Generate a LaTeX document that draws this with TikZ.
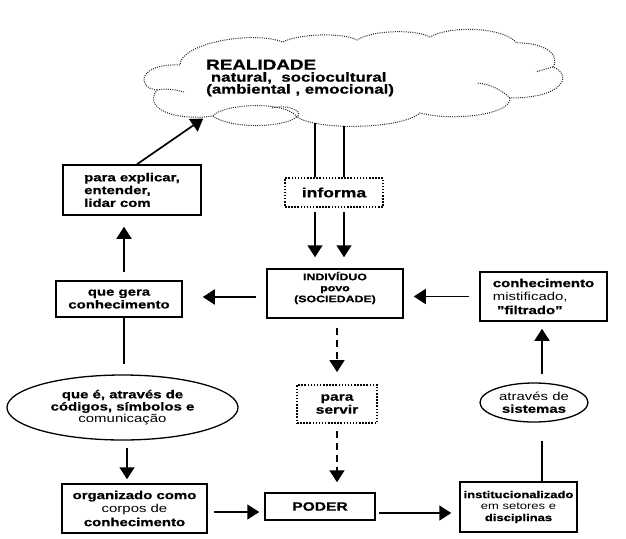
\documentclass[tikz,border=0pt]{standalone}
\usepackage{fontspec}
\setmainfont{Liberation Sans}[FakeStretch=1.3, BoldFeatures={FakeBold=0.7}]
\usetikzlibrary{arrows.meta,shapes.geometric}
\begin{document}
\begin{tikzpicture}[x=1pt,y=-1pt,
  box/.style={draw, line width=1.5pt, rectangle, inner sep=0pt, align=center,
    font=\fontsize{11.5}{12.8}\selectfont\bfseries},
  dotbox/.style={draw, line width=1.8pt, dash pattern=on 1.5pt off 1.6pt, inner sep=0pt, align=center},
  oval/.style={draw, ellipse, line width=1.3pt, inner sep=0pt, align=center,
    font=\fontsize{11.5}{12.2}\selectfont\bfseries},
  arr/.style={line width=1.7pt, -{Triangle[length=12pt,width=15pt]}},
  plainline/.style={line width=1.7pt},
  dasharr/.style={arr, dash pattern=on 7pt off 5pt},
  cloudline/.style={line width=1pt, dash pattern=on 1pt off 1.2pt, black!85}
]
\path[fill=white, use as bounding box] (0,0) rectangle (626,538);

% cloud
\draw[cloudline] (157,90) .. controls (136,88) and (138,63) .. (180,65)
  .. controls (180,44) and (250,30) .. (283,42)
  .. controls (298,34) and (342,32) .. (357,40)
  .. controls (372,30) and (416,29) .. (430,37)
  .. controls (448,26) and (502,26) .. (517,43)
  .. controls (538,42) and (562,52) .. (553,67)
  .. controls (572,74) and (566,98) .. (510,98)
  .. controls (512,114) and (455,122) .. (420,113)
  .. controls (402,129) and (318,131) .. (297,117)
  .. controls (280,129) and (228,128) .. (213,116)
  .. controls (178,121) and (142,110) .. (157,90) -- cycle;
\draw[cloudline] (157,90) .. controls (168,88) and (176,90) .. (184,92);
\draw[cloudline] (553,67) .. controls (548,68) and (542,70) .. (536,72);
\draw[cloudline] (510,98) .. controls (502,90) and (490,84) .. (477,83);
\draw[cloudline] (213,116) .. controls (222,104) and (285,100) .. (297,117);
\draw[cloudline] (272,108) .. controls (290,104) and (304,112) .. (297,117);

\node[anchor=west, align=left, inner sep=0pt] (real) at (206,78)
  {\fontsize{14.5}{17}\selectfont\bfseries REALIDADE\\
   \fontsize{13}{17}\selectfont\bfseries\ natural,\ \ sociocultural\\
   \fontsize{13}{17}\selectfont\bfseries (ambiental , emocional)};

\coordinate (cl0) at (204,118);
\coordinate (cl1) at (315,123);
\coordinate (cl2) at (344,126);

% nodes
\node[dotbox, minimum width=98pt, minimum height=29pt,
  font=\fontsize{13.5}{14}\selectfont\bfseries] (inf) at (334,192.5) {informa};
\node[box, minimum width=136pt, minimum height=49pt,
  font=\fontsize{9.5}{11}\selectfont\bfseries] (ind) at (335,293.5)
  {INDIVÍDUO\\povo\\(SOCIEDADE)\\[2pt]};
\node[box, minimum width=138pt, minimum height=50pt, align=left] (pe) at (132,190)
  {para explicar,\\entender,\\lidar com};
\node[box, minimum width=126pt, minimum height=36pt] (qg) at (119,299)
  {que gera\\conhecimento};
\node[oval, minimum width=231pt, minimum height=65pt] (ell1) at (122.5,407.5)
  {que é, através de\\códigos, símbolos e\\{\mdseries comunicação}};
\node[box, minimum width=145pt, minimum height=49pt, font=\fontsize{11.5}{13.5}\selectfont\bfseries] (org) at (134.5,508.5)
  {organizado como\\{\mdseries corpos de}\\conhecimento};
\node[box, minimum width=110pt, minimum height=27pt,
  font=\fontsize{12}{13}\selectfont\bfseries] (pod) at (320,506.5) {PODER};
\node[box, minimum width=117pt, minimum height=50pt,
  font=\fontsize{10}{11.5}\selectfont\bfseries] (ins) at (518.5,507)
  {institucionalizado\\{\mdseries em setores e}\\disciplinas};
\node[oval, minimum width=108pt, minimum height=39pt] (ell2) at (534,402.5)
  {{\mdseries através de}\\sistemas};
\node[box, minimum width=127pt, minimum height=49pt, align=left,
  font=\fontsize{11.5}{13.5}\selectfont\bfseries] (con) at (543.5,296.5)
  {conhecimento\\{\mdseries mistificado,}\\\ "filtrado"};
\node[dotbox, minimum width=80pt, minimum height=38pt,
  font=\fontsize{12}{13}\selectfont\bfseries] (ps) at (337,404) {para\\servir};

% connectors
\draw[plainline] (cl1) -- ([xshift=-19pt]inf.north);
\draw[plainline] (cl2) -- ([xshift=10pt]inf.north);
\draw[arr, shorten <=4pt, shorten >=11pt] ([xshift=-19pt]inf.south) -- ([xshift=-20pt]ind.north);
\draw[arr, shorten <=4pt, shorten >=11pt] ([xshift=10pt]inf.south) -- ([xshift=9pt]ind.north);
\draw[arr, shorten <=10pt, shorten >=20pt] ([yshift=-3.5pt]ind.west) -- ([yshift=-3.5pt]ind.west -| qg.east);
\draw[arr, shorten <=8pt, shorten >=11pt] ([xshift=5pt]qg.north) -- ([xshift=-8pt]pe.south);
\draw[arr, shorten >=1pt] ([xshift=5pt]pe.north) -- (cl0);
\draw[plainline, shorten >=10pt] ([xshift=5pt]qg.south) -- ([xshift=1.5pt]ell1.north);
\draw[arr, shorten <=7pt, shorten >=4pt] ([xshift=4.5pt]ell1.south) -- ([xshift=-7.5pt]org.north);
\draw[arr, shorten <=6pt, shorten >=5pt] ([yshift=-3.5pt]org.east) -- ([yshift=-3.5pt]org.east -| pod.west);
\draw[arr, shorten <=3pt, shorten >=8pt] ([yshift=-6.5pt]pod.east) -- ([yshift=-6.5pt]pod.east -| ins.west);
\draw[plainline, shorten >=18pt] ([xshift=23.5pt]ins.north) -- ([xshift=8pt]ell2.south);
\draw[arr, shorten <=8pt, shorten >=7pt] ([xshift=8pt]ell2.north) -- ([xshift=-1.5pt]con.south);
\draw[arr, shorten <=10pt, shorten >=10pt] (con.west) -- (con.west -| ind.east);
\draw[dasharr, shorten <=9pt, shorten >=12pt] ([xshift=2pt]ind.south) -- (ps.north);
\draw[dasharr, shorten <=7pt, shorten >=10pt] (ps.south) -- ([xshift=17pt]pod.north);
\end{tikzpicture}
\end{document}
